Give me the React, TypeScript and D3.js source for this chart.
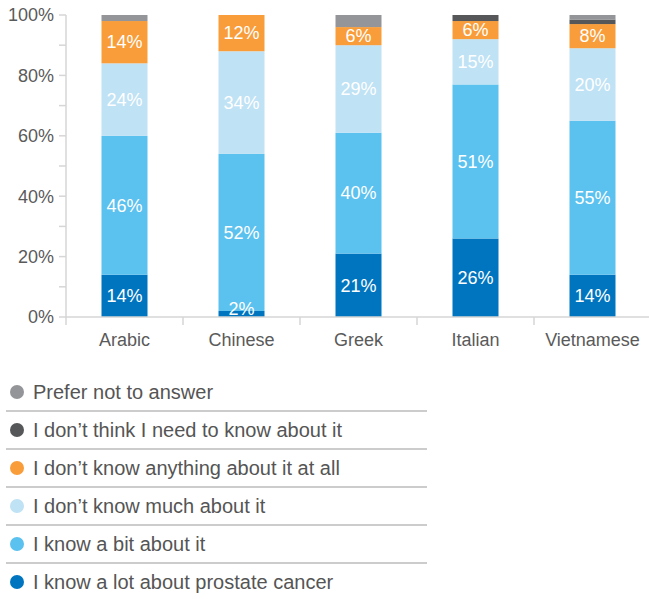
import React from "react";
import * as d3 from "d3";

const categories = ["Arabic", "Chinese", "Greek", "Italian", "Vietnamese"];
const seriesNames = [
  "I know a lot about prostate cancer",
  "I know a bit about it",
  "I don’t know much about it",
  "I don’t know anything about it at all",
  "I don’t think I need to know about it",
  "Prefer not to answer",
];
// segment sizes as drawn in the picture
const knowALot = [14, 2, 21, 26, 14];
const knowABit = [46, 52, 40, 51, 51];
const dontKnowMuch = [24, 34, 29, 15, 24];
const dontKnowAnything = [14, 12, 6, 6, 8];
const dontNeed = [0, 0, 0, 2, 1.5];
const preferNot = [2, 0, 4, 0, 1.5];
// printed data labels
const knowALotLabels = ["14%", "2%", "21%", "26%", "14%"];
const knowABitLabels = ["46%", "52%", "40%", "51%", "55%"];
const dontKnowMuchLabels = ["24%", "34%", "29%", "15%", "20%"];
const dontKnowAnythingLabels = ["14%", "12%", "6%", "6%", "8%"];

const seriesValues = [knowALot, knowABit, dontKnowMuch, dontKnowAnything, dontNeed, preferNot];
const seriesLabels: (string[] | null)[] = [knowALotLabels, knowABitLabels, dontKnowMuchLabels, dontKnowAnythingLabels, null, null];
const colors = ["#0075bf", "#5bc1ef", "#bfe2f5", "#f99d3a", "#555759", "#939598"];
const yTicks = [0, 20, 40, 60, 80, 100];
const yMinorTicks = [10, 30, 50, 70, 90];

const W = 649;
const H = 599;
const FONT = "'Liberation Sans', Arial, Helvetica, sans-serif";

export default function App() {
  const x = d3.scaleBand<string>().domain(categories).range([66, 651]).paddingInner(0).paddingOuter(0);
  const y = d3.scaleLinear().domain([0, 100]).range([317, 15]);
  const barW = 46;

  const rows = categories.map((c, i) => {
    const o: any = { cat: c };
    seriesNames.forEach((s, k) => (o[s] = seriesValues[k][i]));
    return o;
  });
  const stacked = d3.stack().keys(seriesNames)(rows);

  const legendOrder = [5, 4, 3, 2, 1, 0];

  return (
    <svg width={W} height={H} style={{ position: "absolute", left: 0, top: 0 }} fontFamily={FONT}>
      {/* y axis */}
      <line x1={66} x2={66} y1={y(100)} y2={y(0)} stroke="#d6d6d6" strokeWidth={1.5} />
      {[...yTicks, ...yMinorTicks].map((t) => (
        <line key={"t" + t} x1={59} x2={66} y1={y(t)} y2={y(t)} stroke="#d6d6d6" strokeWidth={1.5} />
      ))}
      {yTicks.map((t) => (
        <text key={"l" + t} x={54} y={y(t)} dy="0.35em" textAnchor="end" fontSize={18} fill="#5a5a5a">
          {t}%
        </text>
      ))}
      {/* bars */}
      {stacked.map((s, k) =>
        s.map((d, i) => {
          const h = y(d[0]) - y(d[1]);
          if (h <= 0) return null;
          const cx = (x(categories[i]) as number) + x.bandwidth() / 2;
          return (
            <rect key={k + "-" + i} x={cx - barW / 2} y={y(d[1])} width={barW} height={h} fill={colors[k]} />
          );
        })
      )}
      {/* x axis */}
      <line x1={66} x2={W} y1={y(0)} y2={y(0)} stroke="#d6d6d6" strokeWidth={1.5} />
      {categories.map((c) => (
        <line key={"xt" + c} x1={x(c) as number} x2={x(c) as number} y1={y(0)} y2={y(0) + 8} stroke="#d6d6d6" strokeWidth={1.5} />
      ))}
      {categories.map((c) => (
        <text key={"xl" + c} x={(x(c) as number) + x.bandwidth() / 2} y={346} textAnchor="middle" fontSize={18} fill="#5a5a5a">
          {c}
        </text>
      ))}
      {/* labels */}
      {stacked.map((s, k) => {
        const labels = seriesLabels[k];
        if (!labels) return null;
        return s.map((d, i) => {
          const cx = (x(categories[i]) as number) + x.bandwidth() / 2;
          let cy = (y(d[0]) + y(d[1])) / 2;
          cy = Math.min(cy, y(0) - 8);
          return (
            <text key={"dl" + k + "-" + i} x={cx} y={cy} dy="0.35em" textAnchor="middle" fontSize={18} fill="#ffffff">
              {labels[i]}
            </text>
          );
        });
      })}
      {/* legend */}
      {legendOrder.map((k, j) => {
        const cy = 392 + j * 38;
        return (
          <g key={"lg" + k}>
            <circle cx={17} cy={cy} r={7} fill={colors[k]} />
            <text x={33} y={cy} dy="0.35em" fontSize={20} fill="#555555">
              {seriesNames[k]}
            </text>
            {j < 5 ? <line x1={6} x2={427} y1={cy + 19} y2={cy + 19} stroke="#9a9a9a" strokeWidth={1.2} /> : null}
          </g>
        );
      })}
    </svg>
  );
}
